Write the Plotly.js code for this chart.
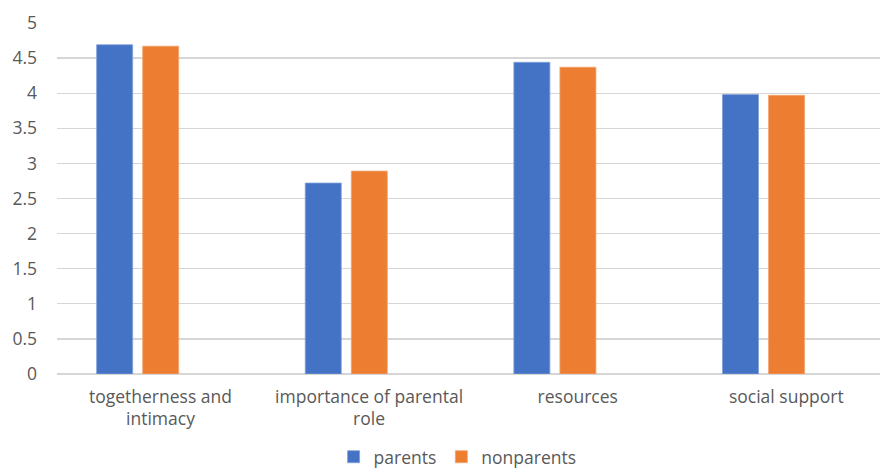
<!DOCTYPE html>
<html>
<head>
<meta charset="utf-8">
<script src="https://cdn.plot.ly/plotly-3.0.1.min.js"></script>
<style>html,body{margin:0;padding:0;background:#fff;}#chart{width:880px;height:470px;}</style>
</head>
<body>
<div id="chart"></div>
<script>
const categories = ['togetherness and<br>intimacy', 'importance of parental<br>role', 'resources', 'social support'];
const seriesNames = ['parents', 'nonparents'];
const parents = [4.69, 2.72, 4.44, 3.98];
const nonparents = [4.67, 2.89, 4.37, 3.97];
const yTicks = [0, 0.5, 1, 1.5, 2, 2.5, 3, 3.5, 4, 4.5, 5];
const yTickText = ['0', '0.5', '1', '1.5', '2', '2.5', '3', '3.5', '4', '4.5', '5'];

const font = 'Open Sans, Noto Sans, sans-serif';
const fs = 17.5;
const barW = 0.1726;
const traces = [
  {type: 'bar', name: seriesNames[0], x: categories, y: parents, width: barW, offset: -0.306,
   marker: {color: '#4472C4', line: {color: '#7f9fd8', width: 0.8}}, hoverinfo: 'y'},
  {type: 'bar', name: seriesNames[1], x: categories, y: nonparents, width: barW, offset: -0.0853,
   marker: {color: '#ED7D31', line: {color: '#f3a470', width: 0.8}}, hoverinfo: 'y'}
];
const layout = {
  width: 880, height: 470,
  margin: {l: 57, r: 0, t: 22.5, b: 96},
  paper_bgcolor: '#fff', plot_bgcolor: '#fff',
  font: {family: font, color: '#595959', size: fs},
  barmode: 'overlay',
  xaxis: {type: 'category', range: [-0.496, 3.449], showgrid: false, zeroline: false, automargin: false,
          showline: false, ticks: '', tickfont: {size: fs, color: '#595959'}, ticklabelstandoff: 10, fixedrange: true},
  yaxis: {range: [0, 5], tickvals: yTicks, ticktext: yTickText, showgrid: true, gridcolor: '#d6d6d6', gridwidth: 1.4,
          zeroline: true, zerolinecolor: '#d6d6d6', zerolinewidth: 1.4, showline: false, ticks: '', automargin: false,
          tickfont: {size: fs, color: '#595959'}, ticklabelstandoff: 19, fixedrange: true},
  showlegend: true,
  legend: {orientation: 'h', x: 0.52, xanchor: 'center', xref: 'container', yref: 'container', y: 0.028, yanchor: 'middle',
           font: {size: fs, color: '#595959'}, itemwidth: 30, traceorder: 'normal'}
};
Plotly.newPlot('chart', traces, layout, {displayModeBar: false, staticPlot: true});
</script>
</body>
</html>
